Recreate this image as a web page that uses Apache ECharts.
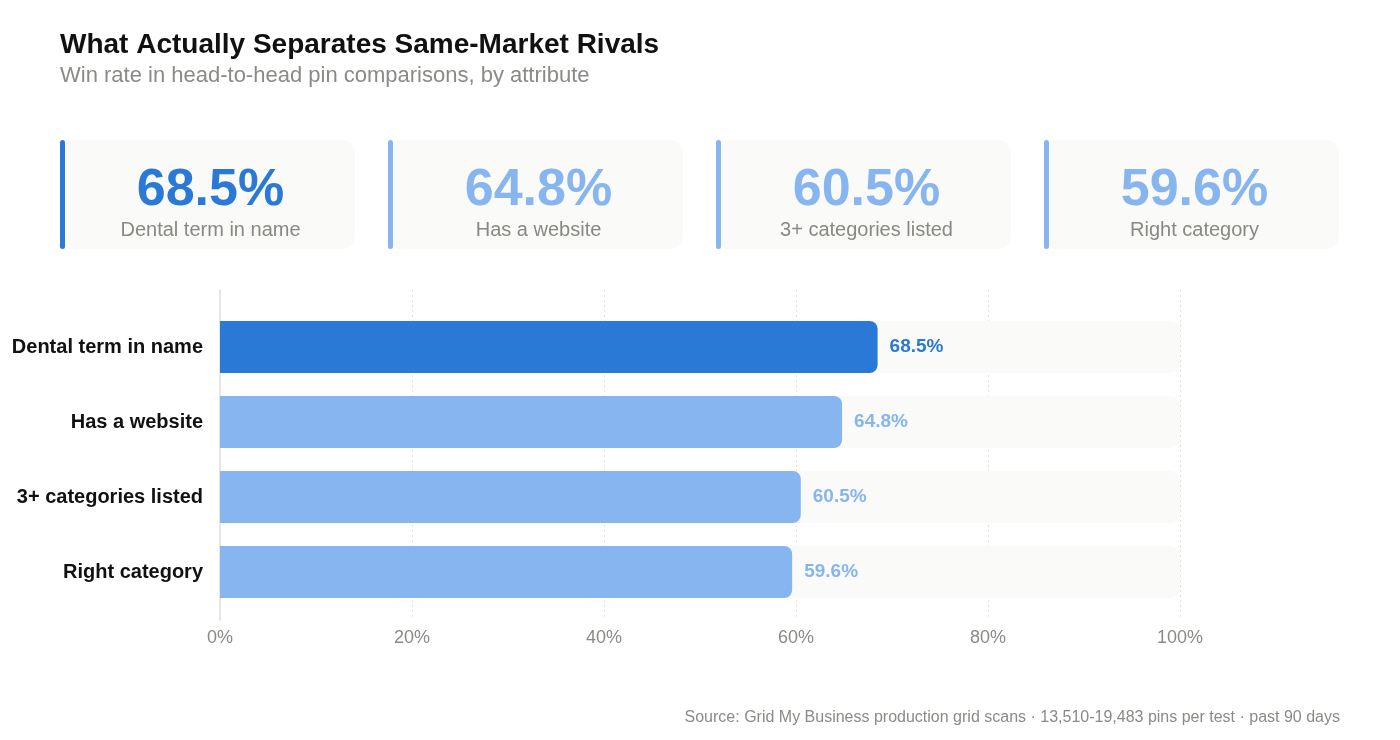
<!DOCTYPE html>
<html>
<head>
<meta charset="utf-8">
<script src="https://cdn.jsdelivr.net/npm/echarts@6/dist/echarts.min.js"></script>
<style>
  html, body { margin: 0; padding: 0; background: #fff; }
  #chart { width: 1400px; height: 740px; }
</style>
</head>
<body>
<div id="chart"></div>
<script>
const categories = ['Dental term in name', 'Has a website', '3+ categories listed', 'Right category'];
const winRates = [68.5, 64.8, 60.5, 59.6];
const xTicks = [0, 20, 40, 60, 80, 100];

const DARK = '#2b79d6';
const LIGHT = '#86b5ef';
const FONT = 'Liberation Sans';

const chart = echarts.init(document.getElementById('chart'));

// stat cards across the top
const cards = [];
const cardW = 295, cardGap = 33, cardX0 = 60, cardY = 140, cardH = 109;
categories.forEach((name, i) => {
  const x = cardX0 + i * (cardW + cardGap);
  const color = i === 0 ? DARK : LIGHT;
  cards.push({
    type: 'rect', left: x, top: cardY,
    shape: { width: cardW, height: cardH, r: 12 },
    style: { fill: '#fafaf8' }, z: 1
  });
  cards.push({
    type: 'rect', left: x, top: cardY,
    shape: { width: 5, height: cardH, r: 2.5 },
    style: { fill: color }, z: 2
  });
  cards.push({
    type: 'text', x: x + cardW / 2 + 3, y: 191,
    style: {
      text: winRates[i].toFixed(1) + '%', fill: color,
      fontFamily: FONT, fontSize: 52, fontWeight: 'bold',
      textAlign: 'center', textVerticalAlign: 'middle'
    }, z: 3
  });
  cards.push({
    type: 'text', x: x + cardW / 2 + 3, y: 230,
    style: {
      text: name, fill: '#888884',
      fontFamily: FONT, fontSize: 20,
      textAlign: 'center', textVerticalAlign: 'middle'
    }, z: 3
  });
});

const option = {
  animation: false,
  textStyle: { fontFamily: FONT },
  title: [
    {
      text: 'What Actually Separates Same-Market Rivals',
      left: 55, top: 26,
      textStyle: { fontSize: 28, fontWeight: 'bold', color: '#111', fontFamily: FONT }
    },
    {
      text: 'Win rate in head-to-head pin comparisons, by attribute',
      left: 55, top: 60,
      textStyle: { fontSize: 22, fontWeight: 'normal', color: '#8a8a86', fontFamily: FONT }
    },
    {
      text: 'Source: Grid My Business production grid scans \u00b7 13,510-19,483 pins per test \u00b7 past 90 days',
      right: 55, top: 705,
      textStyle: { fontSize: 16, fontWeight: 'normal', color: '#8a8a86', fontFamily: FONT }
    }
  ],
  graphic: cards,
  grid: [
    { left: 220, right: 220, top: 290, bottom: 120 },
    { left: 220, right: 220, top: 309.5, height: 300 }
  ],
  xAxis: [
    {
      gridIndex: 0, type: 'value', min: 0, max: 100, interval: 20,
      axisLine: { show: false }, axisTick: { show: false },
      axisLabel: {
        formatter: v => xTicks.includes(v) ? v + '%' : '',
        color: '#8a8a86', fontSize: 18, margin: 9, fontFamily: FONT
      },
      splitLine: { show: true, lineStyle: { color: '#e2e2de', type: [2, 3], width: 1 } }
    },
    {
      gridIndex: 1, type: 'value', min: 0, max: 100,
      show: false
    }
  ],
  yAxis: [
    {
      gridIndex: 0, type: 'value', min: 0, max: 1,
      axisLine: { show: true, lineStyle: { color: '#e6e6e2', width: 2 } },
      axisTick: { show: false }, axisLabel: { show: false }, splitLine: { show: false }
    },
    {
      gridIndex: 1, type: 'category', data: categories, inverse: true,
      axisLine: { show: false }, axisTick: { show: false },
      axisLabel: { color: '#111', fontSize: 20, fontWeight: 'bold', margin: 17, fontFamily: FONT }
    }
  ],
  series: [
    {
      type: 'bar', xAxisIndex: 1, yAxisIndex: 1,
      barWidth: 52,
      data: winRates.map((v, i) => ({
        value: v,
        itemStyle: { color: i === 0 ? DARK : LIGHT, borderRadius: [0, 8, 8, 0] },
        label: { color: i === 0 ? DARK : LIGHT }
      })),
      showBackground: true,
      backgroundStyle: { color: '#fafaf8', borderRadius: [0, 10, 10, 0] },
      label: {
        show: true, position: 'right', distance: 12,
        fontSize: 19, fontWeight: 'bold', fontFamily: FONT,
        formatter: p => p.value.toFixed(1) + '%'
      }
    }
  ]
};

chart.setOption(option);
</script>
</body>
</html>
